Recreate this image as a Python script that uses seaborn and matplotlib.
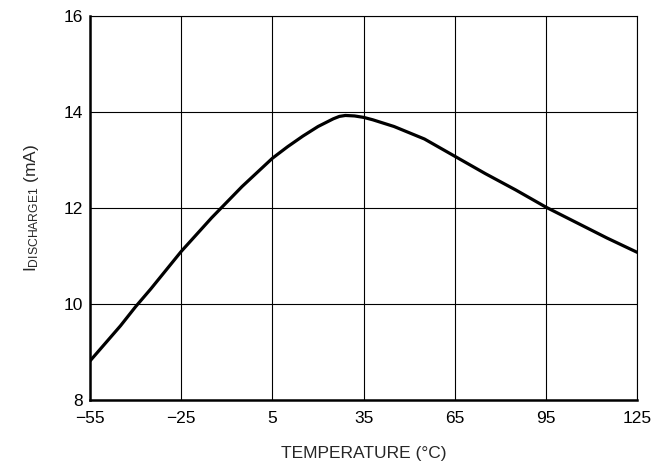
import numpy as np
import pandas as pd
import seaborn as sns
import matplotlib.pyplot as plt

sns.set_style("white")
plt.rcParams['font.family'] = ['Liberation Sans', 'DejaVu Sans']
plt.rcParams['mathtext.fontset'] = 'custom'
plt.rcParams['mathtext.rm'] = 'Liberation Sans'

temperature = [-55, -45, -40, -35, -25, -15, -5, 5, 10, 15, 20, 25, 27, 29, 32, 35, 38, 45, 55, 65,
               75, 85, 95, 105, 115, 125]
i_discharge = [8.82, 9.55, 9.95, 10.32, 11.1, 11.8, 12.45, 13.04, 13.28, 13.5, 13.7, 13.86, 13.91,
               13.93, 13.92, 13.89, 13.84, 13.7, 13.44, 13.08, 12.72, 12.38, 12.02, 11.7, 11.38, 11.08]
x_ticks = [-55, -25, 5, 35, 65, 95, 125]
x_labels = ["\u221255", "\u221225", "5", "35", "65", "95", "125"]
y_ticks = [8, 10, 12, 14, 16]

df = pd.DataFrame({"temp": temperature, "idis": i_discharge})

fig, ax = plt.subplots(figsize=(6.57, 4.71), dpi=100)
fig.subplots_adjust(left=0.137, right=0.970, top=0.966, bottom=0.150)

sns.lineplot(data=df, x="temp", y="idis", ax=ax, color="black", linewidth=2.3)
ax.lines[0].set_solid_joinstyle("round")

ax.set_xlim(-55, 125)
ax.set_ylim(8, 16)
ax.set_xticks(x_ticks)
ax.set_xticklabels(x_labels)
ax.set_yticks(y_ticks)
ax.grid(True, color="black", linewidth=0.8)
ax.tick_params(length=0, labelsize=12.5, colors="black")
ax.tick_params(axis="x", pad=8)
ax.tick_params(axis="y", pad=5)

for side in ["top", "right"]:
    ax.spines[side].set_linewidth(0.8)
    ax.spines[side].set_color("black")
for side in ["left", "bottom"]:
    ax.spines[side].set_linewidth(1.8)
    ax.spines[side].set_color("black")

ax.set_xlabel("TEMPERATURE (\u00b0C)", fontsize=12.5, labelpad=14)
ax.set_ylabel(r"$\mathregular{I_{DISCHARGE1}}$ (mA)", fontsize=12.5, labelpad=16)

fig.savefig("out.png", dpi=100)
